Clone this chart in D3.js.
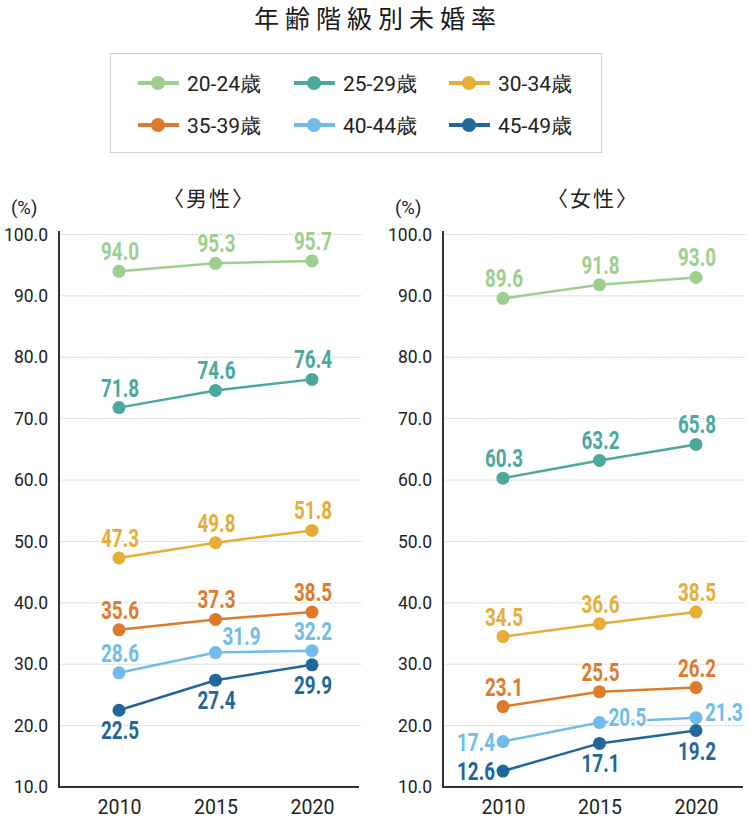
<!DOCTYPE html>
<html><head><meta charset="utf-8">
<script src="https://cdn.jsdelivr.net/npm/d3@7/dist/d3.min.js"></script>
<style>
body{margin:0;background:#fff;}
svg{display:block;}
</style></head>
<body>
<svg id="c" width="750" height="819"></svg>
<script>
const title = "年齢階級別未婚率";
const years = [2010, 2015, 2020];
const seriesNames = ["20-24歳", "25-29歳", "30-34歳", "35-39歳", "40-44歳", "45-49歳"];
const seriesColors = ["#9dcf8e", "#4aa99b", "#e5ae36", "#de7b2b", "#71bcea", "#21679b"];
const yTicks = [10, 20, 30, 40, 50, 60, 70, 80, 90, 100];
const panelTitles = ["〈男性〉", "〈女性〉"];
const unitLabel = "(%)";

const male2024 = [94.0, 95.3, 95.7];
const male2529 = [71.8, 74.6, 76.4];
const male3034 = [47.3, 49.8, 51.8];
const male3539 = [35.6, 37.3, 38.5];
const male4044 = [28.6, 31.9, 32.2];
const male4549 = [22.5, 27.4, 29.9];

const female2024 = [89.6, 91.8, 93.0];
const female2529 = [60.3, 63.2, 65.8];
const female3034 = [34.5, 36.6, 38.5];
const female3539 = [23.1, 25.5, 26.2];
const female4044 = [17.4, 20.5, 21.3];
const female4549 = [12.6, 17.1, 19.2];

const maleSeries = [male2024, male2529, male3034, male3539, male4044, male4549];
const femaleSeries = [female2024, female2529, female3034, female3539, female4044, female4549];

// label placement codes (layout only)
const maleLabelPos = [
  ["a","a","a"],["a","a","a"],["a","a","a"],["a","a","a"],["a","ar","a"],["b","b","b"]
];
const femaleLabelPos = [
  ["a","a","a"],["a","a","a"],["a","a","a"],["a","a","a"],["l","r","r"],["l","b","b"]
];

const svg = d3.select("#c");
const numFont = "Roboto, 'DejaVu Sans', sans-serif";
const tickFont = "Roboto, 'Noto Sans', sans-serif";
const jpFont = "'Noto Sans CJK JP','Noto Sans',sans-serif";

// Title
svg.append("text").attr("x", 378).attr("y", 28).attr("text-anchor", "middle")
  .attr("font-family", jpFont).attr("font-size", 25).attr("letter-spacing", 6)
  .attr("fill", "#1a1a1a").text(title);

// Legend
svg.append("rect").attr("x", 110.5).attr("y", 53.5).attr("width", 491).attr("height", 99)
  .attr("fill", "none").attr("stroke", "#cfcfcf").attr("stroke-width", 1);
const legendCols = [138, 294, 449];
const legendRows = [83, 125];
seriesNames.forEach((name, i) => {
  const lx = legendCols[i % 3], ly = legendRows[Math.floor(i / 3)];
  const g = svg.append("g");
  g.append("line").attr("x1", lx).attr("x2", lx + 41).attr("y1", ly).attr("y2", ly)
    .attr("stroke", seriesColors[i]).attr("stroke-width", 4);
  g.append("circle").attr("cx", lx + 20).attr("cy", ly).attr("r", 7).attr("fill", seriesColors[i]);
  g.append("text").attr("x", lx + 49).attr("y", ly + 7.5)
    .attr("font-family", tickFont).attr("font-size", 21).attr("fill", "#222").text(name);
});

function drawPanel(x0, data, labelPos, ptitle) {
  const axisX = x0, axisEnd = x0 + 300;
  const x = d3.scaleLinear().domain([2010, 2020]).range([axisX + 60, axisX + 253]);
  const y = d3.scaleLinear().domain([10, 100]).range([787, 234.5]);
  const g = svg.append("g");

  // panel title
  g.append("text").attr("x", (axisX + axisEnd) / 2).attr("y", 206).attr("text-anchor", "middle")
    .attr("font-family", jpFont).attr("font-size", 21).attr("letter-spacing", 2)
    .attr("fill", "#222").text(ptitle);
  g.append("text").attr("x", axisX - 48).attr("y", 214)
    .attr("font-family", tickFont).attr("font-size", 18.5).attr("fill", "#222").text(unitLabel);

  // gridlines
  g.selectAll(".grid").data(yTicks.filter(t => t > 10)).enter().append("line")
    .attr("x1", axisX).attr("x2", axisEnd + 3)
    .attr("y1", d => y(d)).attr("y2", d => y(d))
    .attr("stroke", "#c8c8c8").attr("stroke-width", 1).attr("stroke-dasharray", "1.5,1");

  // y axis with d3
  const yAxis = d3.axisLeft(y).tickValues(yTicks).tickFormat(d3.format(".1f")).tickSize(0).tickPadding(11);
  const ya = g.append("g").attr("transform", `translate(${axisX},0)`).call(yAxis);
  ya.select(".domain").remove();
  ya.selectAll("text").attr("font-family", tickFont).attr("font-size", 17.5).attr("fill", "#222");
  g.append("line").attr("x1", axisX).attr("x2", axisX).attr("y1", 231).attr("y2", 788)
    .attr("stroke", "#333").attr("stroke-width", 2);

  // x axis
  const xAxis = d3.axisBottom(x).tickValues(years).tickFormat(d3.format("d")).tickSize(0).tickPadding(13);
  const xa = g.append("g").attr("transform", `translate(0,787)`).call(xAxis);
  xa.select(".domain").remove();
  xa.selectAll("text").attr("font-family", tickFont).attr("font-size", 19.5).attr("fill", "#222");
  g.append("line").attr("x1", axisX - 1).attr("x2", axisEnd).attr("y1", 787).attr("y2", 787)
    .attr("stroke", "#333").attr("stroke-width", 2);

  const line = d3.line().x((d, i) => x(years[i])).y(d => y(d));
  data.forEach((vals, si) => {
    g.append("path").datum(vals).attr("d", line).attr("fill", "none")
      .attr("stroke", seriesColors[si]).attr("stroke-width", 2.5);
  });
  data.forEach((vals, si) => {
    g.selectAll(null).data(vals).enter().append("circle")
      .attr("cx", (d, i) => x(years[i])).attr("cy", d => y(d)).attr("r", 6.5)
      .attr("fill", seriesColors[si]);
  });
  data.forEach((vals, si) => {
    g.selectAll(null).data(vals).enter().append("text")
      .attr("transform", (d, i) => {
        const p = labelPos[si][i], px = x(years[i]), py = y(d);
        let tx = px + 1, ty = py - 11;
        if (p === "l") { tx = px - 8; ty = py + 9; }
        else if (p === "r") { tx = px + 9; ty = py + 3; }
        else if (p === "ar") { tx = px + 26; ty = py - 8; }
        else if (p === "b") { ty = py + 29; }
        return `translate(${tx},${ty}) scale(0.74,1)`;
      })
      .attr("text-anchor", (d, i) => {
        const p = labelPos[si][i];
        return p === "l" ? "end" : (p === "r" ? "start" : "middle");
      })
      .attr("font-family", numFont).attr("font-weight", "bold").attr("font-size", 25.5)
      .attr("fill", seriesColors[si])
      .attr("stroke", "#fff").attr("stroke-width", 4).attr("paint-order", "stroke")
      .text(d => d.toFixed(1));
  });
}

drawPanel(59, maleSeries, maleLabelPos, panelTitles[0]);
drawPanel(443, femaleSeries, femaleLabelPos, panelTitles[1]);
</script>
</body></html>
